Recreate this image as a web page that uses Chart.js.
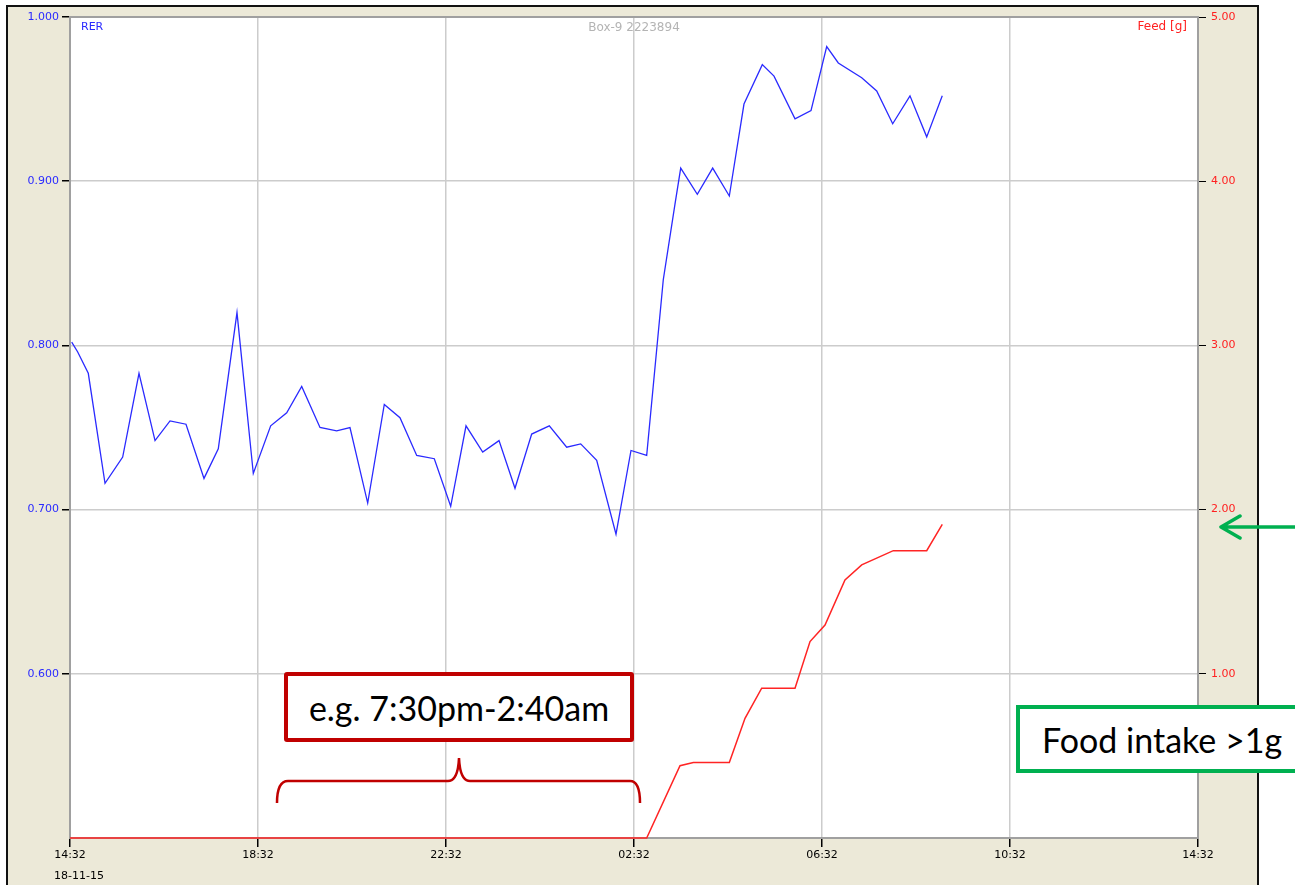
<!DOCTYPE html>
<html>
<head>
<meta charset="utf-8">
<script src="https://cdn.jsdelivr.net/npm/chart.js@4.4.1/dist/chart.umd.min.js"></script>
<style>
  html, body { margin:0; padding:0; background:#ffffff; width:1295px; height:885px; overflow:hidden; }
  #frame { position:absolute; left:6px; top:5px; width:1249px; height:900px; background:#ECE9D8;
           border-left:2px solid #111; border-top:2px solid #111; border-right:2px solid #111; }
  #c { position:absolute; left:0; top:0; }
  .ann { position:absolute; background:#fff; box-sizing:border-box; font-family:Lato, 'Open Sans', sans-serif; color:#000; }
  #boxRed { left:284px; top:672px; width:350px; height:70px; border:4px solid #C00000; border-radius:3px;
            font-size:34px; line-height:64px; text-align:center; white-space:nowrap; }
  #boxGreen { left:1016px; top:705px; width:300px; height:68px; border:4px solid #00B050;
              font-size:34px; line-height:62px; padding-left:22px; white-space:nowrap; }
  svg { position:absolute; left:0; top:0; }
</style>
</head>
<body>
<div id="frame"></div>
<canvas id="c" width="1295" height="885"></canvas>
<svg width="1295" height="885">
  <path d="M277,803 Q277,781 288,781 L448,781 Q458,781 459,758 Q460,781 470,781 L630,781 Q640,781 640,803"
        fill="none" stroke="#C00000" stroke-width="2.5"/>
  <path d="M1295,527 L1222,527 M1240,516 L1221,527 L1240,538" fill="none" stroke="#00B050" stroke-width="3.5" stroke-linecap="round" stroke-linejoin="round"/>
</svg>
<div class="ann" id="boxRed">e.g. 7:30pm-2:40am</div>
<div class="ann" id="boxGreen">Food intake &gt;1g</div>
<script>
// ---- data (hours after 14:32 on 18-11-15) ----
const timeTickHours = [0, 4, 8, 12, 16, 20, 24];
const timeTickLabels = ['14:32', '18:32', '22:32', '02:32', '06:32', '10:32', '14:32'];
const dateLabel = '18-11-15';
const rerTicks = [0.6, 0.7, 0.8, 0.9, 1.0];
const feedTicks = [1, 2, 3, 4, 5];

const rerHours = [0.036, 0.164, 0.389, 0.745, 1.121, 1.468, 1.809, 2.128, 2.468, 2.851, 3.155, 3.553, 3.900,
  4.270, 4.611, 4.930, 5.319, 5.674, 5.957, 6.334, 6.687, 7.021, 7.377, 7.751, 8.100, 8.426, 8.781, 9.128,
  9.468, 9.823, 10.198, 10.568, 10.866, 11.206, 11.617, 11.936, 12.270, 12.623, 12.872, 12.994, 13.347,
  13.674, 14.028, 14.340, 14.730, 14.979, 15.426, 15.766, 16.100, 16.347, 16.845, 17.164, 17.504, 17.872,
  18.228, 18.559];
const rerValues = [0.802, 0.796, 0.783, 0.716, 0.732, 0.783, 0.742, 0.754, 0.752, 0.719, 0.737, 0.820, 0.722,
  0.751, 0.759, 0.775, 0.750, 0.748, 0.750, 0.704, 0.764, 0.756, 0.733, 0.731, 0.702, 0.751, 0.735, 0.742,
  0.713, 0.746, 0.751, 0.738, 0.740, 0.730, 0.685, 0.736, 0.733, 0.840, 0.886, 0.908, 0.892,
  0.908, 0.891, 0.947, 0.971, 0.964, 0.938, 0.943, 0.982, 0.972, 0.963, 0.955, 0.935, 0.952,
  0.927, 0.952];

const feedHours = [0, 12.27, 12.979, 13.262, 14.028, 14.362, 14.717, 15.426, 15.745, 16.064, 16.489, 16.845,
  17.517, 18.228, 18.559];
const feedValues = [0, 0, 0.44, 0.46, 0.46, 0.729, 0.912, 0.912, 1.196, 1.297, 1.571, 1.663, 1.75, 1.75, 1.91];

const chartTitle = 'Box-9 2223894';
const rerName = 'RER';
const feedName = 'Feed [g]';

// ---- chart ----
const tickFont = { family: 'DejaVu Sans', size: 11 };

const framePlugin = {
  id: 'frameDeco',
  beforeDraw(chart) {
    const { ctx, chartArea: a } = chart;
    ctx.save();
    ctx.fillStyle = '#ffffff';
    ctx.fillRect(a.left, a.top, a.right - a.left, a.bottom - a.top);
    ctx.restore();
  },
  beforeDatasetsDraw(chart) {
    const { ctx, chartArea: a } = chart;
    ctx.save();
    ctx.strokeStyle = '#a0a0a0';
    ctx.lineWidth = 2;
    ctx.strokeRect(a.left, a.top, a.right - a.left, a.bottom - a.top);
    ctx.restore();
  },
  afterDraw(chart) {
    const { ctx, chartArea: a } = chart;
    ctx.save();
    ctx.textBaseline = 'middle';
    ctx.font = '11px DejaVu Sans';
    ctx.fillStyle = '#2a2aff';
    ctx.textAlign = 'left';
    ctx.fillText(rerName, a.left + 11, a.top + 10);
    ctx.fillStyle = '#ff2020';
    ctx.textAlign = 'right';
    ctx.font = '12px DejaVu Sans';
    ctx.fillText(feedName, a.right - 11, a.top + 10);
    ctx.fillStyle = '#b4b4b4';
    ctx.textAlign = 'center';
    ctx.fillText(chartTitle, chart.scales.x.getPixelForValue(12), a.top + 11);
    ctx.fillStyle = '#000000';
    ctx.textAlign = 'left';
    ctx.font = '11px DejaVu Sans';
    ctx.fillText(dateLabel, chart.scales.x.getPixelForValue(0) - 16, 876);
    ctx.restore();
  }
};

new Chart(document.getElementById('c'), {
  type: 'line',
  data: {
    datasets: [
      {
        label: rerName,
        data: rerHours.map((h, i) => ({ x: h, y: rerValues[i] })),
        borderColor: '#2a2aff',
        borderWidth: 1.3,
        pointRadius: 0,
        tension: 0,
        yAxisID: 'y'
      },
      {
        label: feedName,
        data: feedHours.map((h, i) => ({ x: h, y: feedValues[i] })),
        borderColor: '#ff2424',
        borderWidth: 1.5,
        pointRadius: 0,
        tension: 0,
        clip: 3,
        yAxisID: 'y1'
      }
    ]
  },
  options: {
    responsive: false,
    animation: false,
    layout: { padding: { top: 17, left: 0, right: 0, bottom: 0 } },
    plugins: { legend: { display: false }, tooltip: { enabled: false } },
    scales: {
      x: {
        type: 'linear', min: 0, max: 24,
        afterBuildTicks(s) { s.ticks = timeTickHours.map(v => ({ value: v })); },
        afterFit(s) { s.height = 47; },
        ticks: {
          callback: (v) => { const i = timeTickHours.indexOf(v); return i >= 0 ? timeTickLabels[i] : ''; },
          color: '#000', font: tickFont, maxRotation: 0, autoSkip: false, padding: 2
        },
        grid: { color: '#cccccc', lineWidth: 1.5, tickColor: '#000', tickLength: 9 },
        border: { display: true, color: '#a0a0a0', width: 2 }
      },
      y: {
        type: 'linear', position: 'left', min: 0.5, max: 1.0,
        afterBuildTicks(s) { s.ticks = rerTicks.map(v => ({ value: v })); },
        afterFit(s) { s.width = 70; },
        ticks: { callback: (v) => v.toFixed(3), color: '#2a2aff', font: tickFont, padding: 3 },
        grid: { color: '#cccccc', lineWidth: 1.5, tickColor: '#000', tickLength: 8 },
        border: { display: true, color: '#a0a0a0', width: 2 }
      },
      y1: {
        type: 'linear', position: 'right', min: 0, max: 5,
        afterBuildTicks(s) { s.ticks = feedTicks.map(v => ({ value: v })); },
        afterFit(s) { s.width = 97; },
        ticks: { callback: (v) => v.toFixed(2), color: '#ff2020', font: tickFont, padding: 5 },
        grid: { drawOnChartArea: false, tickColor: '#000', tickLength: 8 },
        border: { display: true, color: '#a0a0a0', width: 2 }
      }
    }
  },
  plugins: [framePlugin]
});
</script>
</body>
</html>
